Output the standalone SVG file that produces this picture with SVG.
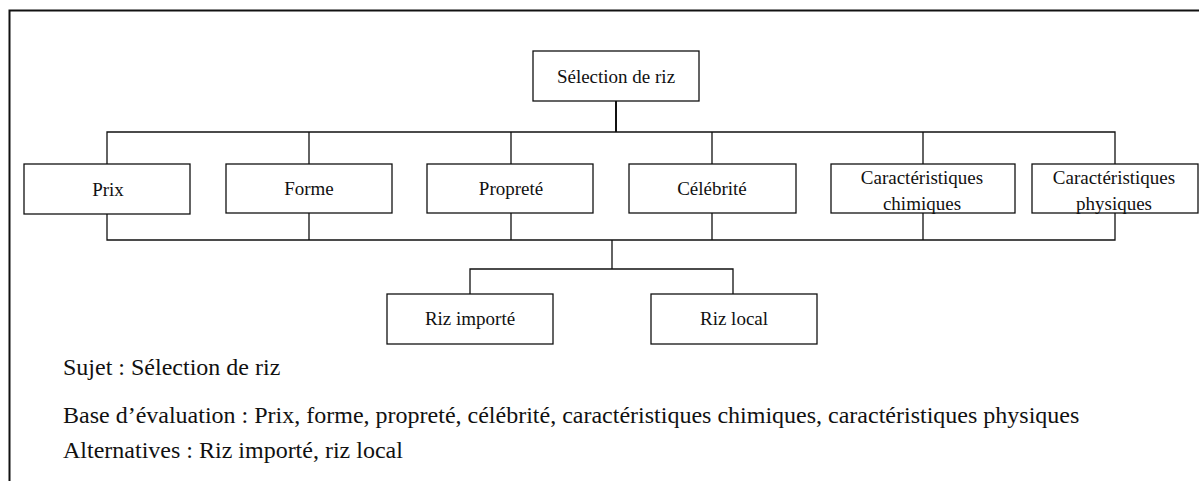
<svg xmlns="http://www.w3.org/2000/svg" width="1199" height="481" viewBox="0 0 1199 481">
  <style>
    .box { fill: #fff; stroke: #111; stroke-width: 1.3; }
    .lbl { font-size: 19px; fill: #111; text-anchor: middle; }
    .note { font-size: 24px; fill: #111; }
    .wire { fill: none; stroke: #111; stroke-width: 1.3; }
    .frame { fill: none; stroke: #111; stroke-width: 2; }
  </style>
  <rect width="1199" height="481" fill="#fff"/>

  <!-- page frame -->
  <path class="frame" d="M9.5 481 V10.5 H1199"/>

  <!-- connectors -->
  <g id="connectors">
    <path class="wire" style="stroke-width:2" d="M616 101 V132"/>
    <path class="wire" d="M107 164 V132 H1115 V164 M309 132 V164 M511 132 V164 M712 132 V164 M923 132 V164"/>
    <path class="wire" d="M107 214 V240 H1115 V213 M309 204 V240 M511 213 V240 M712 213 V240 M923 203 V240"/>
    <path class="wire" d="M612 240 V269 M470 294 V269 H733 V296"/>
  </g>

  <g font-family="'Liberation Serif', 'Times New Roman', Times, serif">
    <g id="goal">
      <rect class="box" x="533" y="51" width="166" height="50"/>
      <text class="lbl" x="616" y="83">Sélection de riz</text>
    </g>

    <g id="prix">
      <rect class="box" x="24" y="164" width="166" height="50"/>
      <text class="lbl" x="108" y="196">Prix</text>
    </g>
    <g id="forme">
      <rect class="box" x="226" y="164" width="166" height="49"/>
      <text class="lbl" x="309" y="195">Forme</text>
    </g>
    <g id="proprete">
      <rect class="box" x="427" y="164" width="166" height="49"/>
      <text class="lbl" x="511" y="195">Propreté</text>
    </g>
    <g id="celebrite">
      <rect class="box" x="629" y="164" width="167" height="49"/>
      <text class="lbl" x="712" y="195">Célébrité</text>
    </g>
    <g id="chimiques">
      <rect class="box" x="831" y="164" width="184" height="49"/>
      <text class="lbl" x="922" y="184">Caractéristiques</text>
      <text class="lbl" x="922" y="210">chimiques</text>
    </g>
    <g id="physiques">
      <rect class="box" x="1032" y="164" width="166" height="49"/>
      <text class="lbl" x="1114" y="184">Caractéristiques</text>
      <text class="lbl" x="1114" y="210">physiques</text>
    </g>

    <g id="riz-importe">
      <rect class="box" x="387" y="294" width="166" height="50"/>
      <text class="lbl" x="470" y="325">Riz importé</text>
    </g>
    <g id="riz-local">
      <rect class="box" x="651" y="294" width="166" height="50"/>
      <text class="lbl" x="734" y="325">Riz local</text>
    </g>

    <g id="legend">
      <text class="note" x="63" y="375">Sujet : Sélection de riz</text>
      <text class="note" x="63" y="423">Base d’évaluation : Prix, forme, propreté, célébrité, caractéristiques chimiques, caractéristiques physiques</text>
      <text class="note" x="63" y="458">Alternatives : Riz importé, riz local</text>
    </g>
  </g>
</svg>
